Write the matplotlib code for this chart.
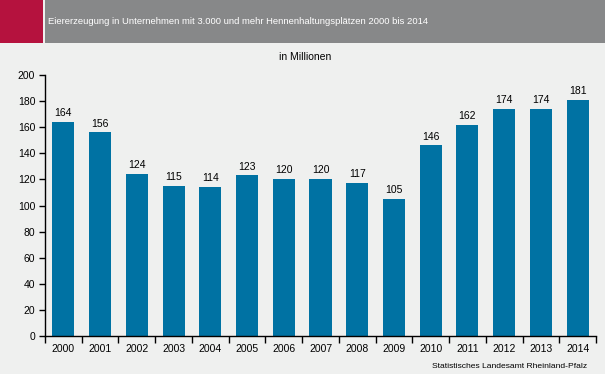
import matplotlib.pyplot as plt
from matplotlib.patches import Rectangle

years = ["2000", "2001", "2002", "2003", "2004", "2005", "2006", "2007",
         "2008", "2009", "2010", "2011", "2012", "2013", "2014"]
values = [164, 156, 124, 115, 114, 123, 120, 120, 117, 105, 146, 162, 174, 174, 181]

title = "Eiererzeugung in Unternehmen mit 3.000 und mehr Hennenhaltungsplätzen 2000 bis 2014"
unit = "in Millionen"
source = "Statistisches Landesamt Rheinland-Pfalz"

bg = "#eff0ef"
bar_color = "#0072a3"

plt.rcParams['font.family'] = ['Liberation Sans', 'DejaVu Sans']

W, H = 605, 374
fig = plt.figure(figsize=(W / 100, H / 100), dpi=100, facecolor=bg)

# header band
fig.patches.append(Rectangle((0, 1 - 43 / H), 43 / W, 43 / H, transform=fig.transFigure,
                             facecolor="#b5123e", edgecolor="none"))
fig.patches.append(Rectangle((45 / W, 1 - 43 / H), 1 - 45 / W, 43 / H, transform=fig.transFigure,
                             facecolor="#878889", edgecolor="none"))
fig.text(48 / W, 1 - 21 / H, title, color="white", fontsize=6.8, va="center", ha="left")

ax = fig.add_axes([45 / W, 1 - 336 / H, (596 - 45) / W, (336 - 75) / H])
ax.set_facecolor(bg)
x = list(range(len(years)))
bars = ax.bar(x, values, width=0.6, color=bar_color)
for xi, v in zip(x, values):
    ax.text(xi, v + 3, str(v), ha="center", va="bottom", fontsize=7.5, color="black")

ax.set_xlim(-0.5, len(years) - 0.5)
ax.set_ylim(0, 200)
ax.set_yticks(range(0, 201, 20))
ax.tick_params(axis="y", labelsize=7.5, length=4, width=1, direction="out", pad=3)
ax.set_xticks(x)
ax.set_xticklabels(years)
ax.set_xticks([i - 0.5 for i in range(len(years) + 1)], minor=True)
ax.tick_params(axis="x", which="major", length=0, labelsize=7.5, pad=6)
ax.tick_params(axis="x", which="minor", length=5, width=1, direction="out")
for s in ["top", "right"]:
    ax.spines[s].set_visible(False)
ax.spines["left"].set_linewidth(1)
ax.spines["bottom"].set_linewidth(1)

fig.text(305 / W, 1 - 57 / H, unit, fontsize=7.5, ha="center", va="center")
fig.text(587 / W, 1 - 367 / H, source, fontsize=6.1, ha="right", va="center")

fig.savefig("out.png", dpi=100, facecolor=bg)
